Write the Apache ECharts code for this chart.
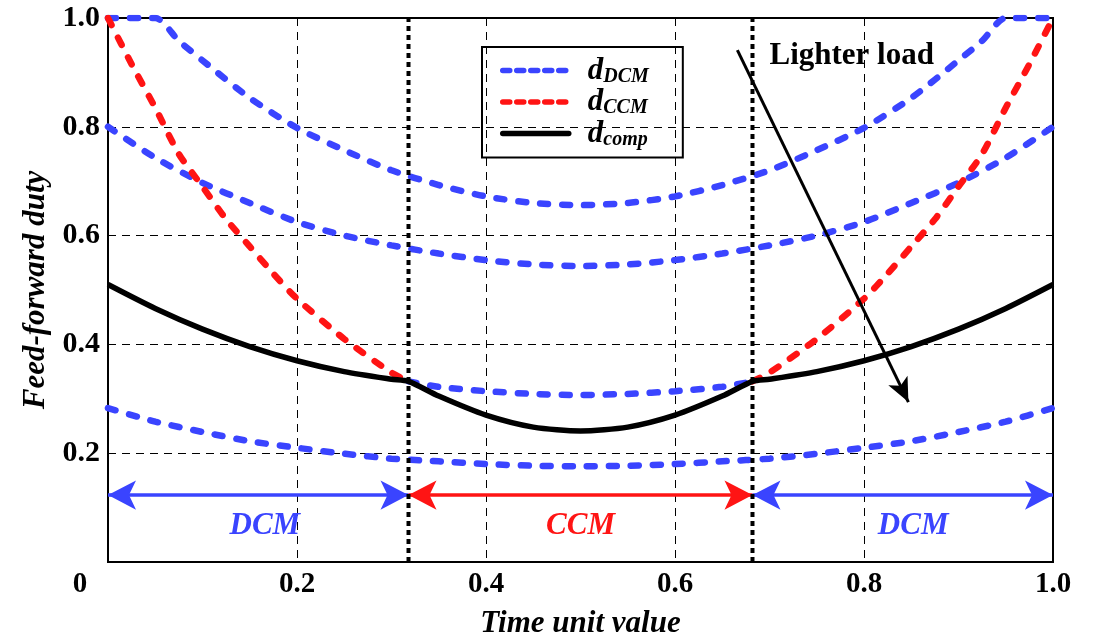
<!DOCTYPE html>
<html>
<head>
<meta charset="utf-8">
<script src="https://cdn.jsdelivr.net/npm/echarts@6/dist/echarts.min.js"></script>
<style>
  html, body { margin: 0; padding: 0; background: #fff; }
  #chart { width: 1107px; height: 638px; }
</style>
</head>
<body>
<div id="chart"></div>
<script>
// time unit values shared by most DCM curves
const xDcm = [0, 0.05, 0.1, 0.15, 0.2, 0.25, 0.3, 0.35, 0.4, 0.45, 0.5, 0.55, 0.6, 0.65, 0.7, 0.75, 0.8, 0.85, 0.9, 0.95, 1.0];
// top DCM curve is clipped at 1.0 near both ends
const xDcm1 = [0, 0.05, 0.075, 0.1, 0.15, 0.2, 0.25, 0.3, 0.35, 0.4, 0.45, 0.5, 0.55, 0.6, 0.65, 0.7, 0.75, 0.8, 0.85, 0.9, 0.925, 0.95, 1.0];
const dcm1 = [1.0, 1.0, 0.958, 0.922, 0.853, 0.798, 0.757, 0.72, 0.693, 0.672, 0.66, 0.656, 0.66, 0.672, 0.693, 0.72, 0.757, 0.798, 0.853, 0.922, 0.958, 1.0, 1.0];
const dcm2 = [0.8, 0.743, 0.697, 0.66, 0.625, 0.6, 0.582, 0.567, 0.555, 0.547, 0.544, 0.547, 0.555, 0.567, 0.582, 0.6, 0.625, 0.66, 0.697, 0.743, 0.8];
const dcm4 = [0.283, 0.258, 0.239, 0.222, 0.21, 0.199, 0.19, 0.185, 0.18, 0.177, 0.176, 0.177, 0.18, 0.185, 0.19, 0.199, 0.21, 0.222, 0.239, 0.258, 0.283];
// third DCM curve, only drawn inside the CCM window
const xMid = [0.318, 0.35, 0.4, 0.45, 0.5, 0.55, 0.6, 0.65, 0.682];
const dcm3 = [0.332, 0.322, 0.314, 0.309, 0.307, 0.309, 0.314, 0.322, 0.332];
// CCM duty, drawn in the two DCM regions
const xCcmL = [0, 0.025, 0.05, 0.075, 0.1, 0.125, 0.15, 0.175, 0.2, 0.25, 0.3, 0.318];
const ccmL = [1.0, 0.915, 0.835, 0.75, 0.69, 0.63, 0.58, 0.53, 0.484, 0.41, 0.348, 0.332];
const xCcmR = [0.682, 0.7, 0.75, 0.8, 0.825, 0.85, 0.875, 0.9, 0.925, 0.95, 0.975, 1.0];
const ccmR = [0.332, 0.348, 0.41, 0.484, 0.53, 0.58, 0.63, 0.69, 0.75, 0.835, 0.915, 1.0];
// compensated duty
const xComp = [0, 0.05, 0.1, 0.15, 0.2, 0.25, 0.3, 0.318, 0.35, 0.4, 0.45, 0.5, 0.55, 0.6, 0.65, 0.682, 0.7, 0.75, 0.8, 0.85, 0.9, 0.95, 1.0];
const comp = [0.51, 0.466, 0.428, 0.396, 0.37, 0.35, 0.336, 0.332, 0.305, 0.27, 0.248, 0.241, 0.248, 0.27, 0.305, 0.332, 0.336, 0.35, 0.37, 0.396, 0.428, 0.466, 0.51];
// mode boundaries and region labels
const regionEdges = [0, 0.318, 0.682, 1.0];
const regionNames = ['DCM', 'CCM', 'DCM'];
const regionLabelX = [0.166, 0.5, 0.852];
// "Lighter load" arrow, start and end
const loadArrow = [[0.666, 0.941], [0.847, 0.294]];

const BLUE = '#3a44ff';
const RED = '#ff1414';
const FONT = "'Liberation Serif', 'Times New Roman', serif";

const zip = (xs, ys) => xs.map((x, i) => [x, ys[i]]);

const dashStyle = color => ({ color: color, width: 6.5, type: [8, 14], cap: 'round' });

function curve(name, xs, ys, style, z) {
  return {
    name: name, type: 'line', data: zip(xs, ys), symbol: 'none', smooth: 0.25,
    lineStyle: style, z: z, silent: true
  };
}

const chart = echarts.init(document.getElementById('chart'));

const series = [
  curve('dDCM', xDcm1, dcm1, dashStyle(BLUE), 3),
  curve('dDCM', xDcm, dcm2, dashStyle(BLUE), 3),
  curve('dDCM', xMid, dcm3, dashStyle(BLUE), 3),
  curve('dDCM', xDcm, dcm4, dashStyle(BLUE), 3),
  curve('dCCM', xCcmL, ccmL, dashStyle(RED), 4),
  curve('dCCM', xCcmR, ccmR, dashStyle(RED), 4),
  curve('dcomp', xComp, comp, { color: '#000', width: 5.5 }, 5)
];

// dotted boundaries between the modes
regionEdges.slice(1, 3).forEach(b => {
  series.push({
    type: 'line', data: [[b, 0], [b, 1]], symbol: 'none', silent: true, z: 6,
    lineStyle: { color: '#000', width: 4, type: [5, 4] }
  });
});

// mode arrows, labels and the load arrow
series.push({
  type: 'line', data: [], silent: true, z: 7,
  markLine: {
    silent: true, animation: false,
    symbol: ['arrow', 'arrow'], symbolSize: [22, 28],
    label: { show: false },
    data: regionNames.map((n, i) => [
      { coord: [regionEdges[i], 0.123], lineStyle: { color: n === 'CCM' ? RED : BLUE, width: 3.5, type: 'solid' } },
      { coord: [regionEdges[i + 1], 0.123] }
    ])
  }
});
series.push({
  type: 'line', data: [], silent: true, z: 7,
  markLine: {
    silent: true, animation: false,
    symbol: ['none', 'arrow'], symbolSize: [16, 24],
    label: { show: false },
    lineStyle: { color: '#000', width: 3, type: 'solid' },
    data: [[{ coord: loadArrow[0] }, { coord: loadArrow[1] }]]
  }
});
series.push({
  type: 'scatter', silent: true, z: 8, symbolSize: 0, itemStyle: { opacity: 1 },
  data: regionNames.map((n, i) => ({
    value: [regionLabelX[i], 0.066],
    label: {
      show: true, position: 'inside', formatter: n,
      color: n === 'CCM' ? RED : BLUE,
      fontFamily: FONT, fontSize: 31, fontStyle: 'italic', fontWeight: 'bold'
    }
  }))
});
series.push({
  type: 'scatter', silent: true, z: 8, symbolSize: 0, itemStyle: { opacity: 1 },
  data: [{
    value: [0.7, 0.93],
    label: {
      show: true, position: 'right', distance: 0, formatter: 'Lighter load',
      color: '#000', fontFamily: FONT, fontSize: 31, fontWeight: 'bold'
    }
  }]
});

const tickLabel = v => v === 0 ? '{z|0}' : v.toFixed(1);

chart.setOption({
  animation: false,
  backgroundColor: '#fff',
  grid: {
    left: 108, right: 54, top: 18, bottom: 76,
    outerBoundsMode: 'none',
    show: true, borderColor: '#000', borderWidth: 2
  },
  legend: {
    data: [
      { name: 'dDCM', lineStyle: { type: [7, 7] } },
      { name: 'dCCM', lineStyle: { type: [7, 7] } },
      { name: 'dcomp' }
    ],
    orient: 'vertical', left: 482, top: 47,
    itemWidth: 66, itemHeight: 14, itemGap: 0,
    padding: [8, 34, 8, 18],
    borderColor: '#000', borderWidth: 2,
    selectedMode: false,
    itemStyle: { opacity: 0 },
    lineStyle: { width: 5.5, cap: 'round' },
    formatter: name => '{d|d}{s|' + name.slice(1) + '}',
    textStyle: {
      rich: {
        d: { fontFamily: FONT, fontSize: 31, fontStyle: 'italic', fontWeight: 'bold', color: '#000', padding: [0, 0, 0, 14] },
        s: { fontFamily: FONT, fontSize: 20, fontStyle: 'italic', fontWeight: 'bold', color: '#000', verticalAlign: 'bottom', padding: [12, 0, 0, 0] }
      }
    }
  },
  xAxis: {
    type: 'value', min: 0, max: 1, interval: 0.2,
    name: 'Time unit value', nameLocation: 'middle', nameGap: 46,
    nameTextStyle: { fontFamily: FONT, fontSize: 31, fontStyle: 'italic', fontWeight: 'bold', color: '#000' },
    axisLine: { show: true, lineStyle: { color: '#000', width: 2 } },
    axisTick: { show: false },
    axisLabel: {
      margin: 8, color: '#000', fontFamily: FONT, fontSize: 29, fontWeight: 'bold',
      formatter: tickLabel,
      rich: { z: { fontFamily: FONT, fontSize: 29, fontWeight: 'bold', color: '#000', padding: [0, 56, 0, 0] } }
    },
    splitLine: { show: true, lineStyle: { color: '#000', width: 1, type: [8, 6] } }
  },
  yAxis: {
    type: 'value', min: 0, max: 1, interval: 0.2,
    name: 'Feed-forward duty', nameLocation: 'middle', nameGap: 53,
    nameTextStyle: { fontFamily: FONT, fontSize: 31, fontStyle: 'italic', fontWeight: 'bold', color: '#000' },
    axisLine: { show: true, lineStyle: { color: '#000', width: 2 } },
    axisTick: { show: false },
    axisLabel: {
      margin: 8, color: '#000', fontFamily: FONT, fontSize: 30, fontWeight: 'bold',
      formatter: v => v === 0 ? '' : v.toFixed(1)
    },
    splitLine: { show: true, lineStyle: { color: '#000', width: 1, type: [8, 6] } }
  },
  series: series
});
</script>
</body>
</html>
